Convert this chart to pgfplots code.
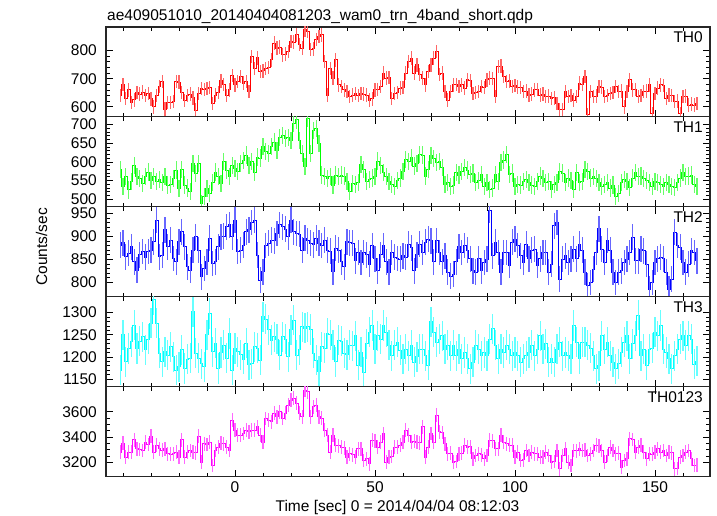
\documentclass[border=0pt]{standalone}
\usepackage{fontspec}
\setmainfont{Liberation Sans}
\usepackage{pgfplots}
\usepackage{pgfplotstable}
\pgfplotsset{compat=1.18}

\pgfplotstableread{
t a b c d e
-41 640 580 881 1170 3280
-40 680 534 886 1250 3352
-39 630 560 856 1189 3240
-38 660 525 863 1219 3280
-37 615 547 877 1234 3280
-36 625 591 845 1272 3379
-35 650 560 827 1219 3307
-34 645 556 860 1235 3300
-33 652 542 867 1246 3293
-32 640 560 855 1216 3360
-31 648 573 867 1240 3340
-30 628 551 870 1276 3405
-29 600 560 888 1329 3280
-28 640 547 935 1276 3333
-27 672 552 856 1208 3307
-26 690 545 859 1189 3295
-25 592 560 914 1212 3307
-24 615 538 877 1204 3267
-23 616 540 892 1223 3262
-22 618 555 852 1200 3267
-21 690 578 845 1170 3280
-20 688 529 888 1178 3240
-19 650 580 910 1216 3379
-18 622 538 877 1174 3240
-17 640 530 834 1195 3280
-16 645 520 827 1197 3293
-15 632 596 870 1302 3280
-14 588 569 899 1208 3275
-13 648 596 870 1197 3405
-12 665 488 812 1185 3200
-11 662 507 830 1178 3347
-10 665 529 845 1250 3340
-9 668 516 896 1298 3360
-8 612 545 841 1212 3173
-7 642 573 845 1231 3293
-6 650 560 877 1174 3320
-5 692 542 899 1210 3352
-4 680 600 900 1227 3345
-3 640 578 921 1197 3320
-2 660 560 925 1253 3293
-1 712 591 899 1170 3533
0 678 582 935 1219 3453
1 690 575 867 1212 3413
2 708 596 870 1205 3413
3 684 604 881 1195 3427
4 690 618 910 1231 3453
5 654 591 914 1182 3440
6 779 600 930 1185 3453
7 737 573 935 1223 3453
8 774 613 859 1220 3480
9 725 610 805 1193 3413
10 728 640 823 1291 3360
11 737 627 880 1285 3547
12 740 622 885 1261 3533
13 767 640 892 1238 3520
14 827 653 890 1246 3587
15 809 631 906 1240 3560
16 812 666 925 1204 3600
17 785 671 921 1246 3547
18 788 662 915 1240 3587
19 797 665 899 1200 3653
20 833 657 935 1261 3693
21 830 702 910 1283 3707
22 856 712 906 1204 3667
23 821 657 905 1216 3587
24 809 622 870 1268 3560
25 874 587 896 1265 3773
26 868 715 890 1268 3760
27 803 622 885 1262 3560
28 806 684 882 1208 3640
29 839 690 896 1193 3653
30 850 649 885 1167 3560
31 856 565 880 1223 3550
32 761 560 892 1220 3453
33 642 556 870 1253 3413
34 737 560 868 1250 3280
35 702 538 823 1227 3413
36 767 565 874 1189 3333
37 678 560 870 1238 3330
38 672 565 845 1235 3320
39 660 562 834 1208 3315
40 655 547 888 1205 3240
41 636 520 886 1227 3267
42 642 542 885 1225 3260
43 648 540 847 1248 3240
44 640 545 865 1181 3307
45 648 593 843 1211 3307
46 645 580 865 1166 3213
47 642 548 860 1230 3227
48 624 552 840 1256 3187
49 628 557 880 1271 3373
50 660 560 851 1218 3370
51 662 602 825 1248 3320
52 672 590 860 1240 3360
53 720 571 880 1271 3427
54 702 560 845 1256 3200
55 705 548 822 1226 3240
56 630 540 865 1203 3245
57 648 535 855 1226 3320
58 650 550 852 1233 3318
59 666 557 850 1215 3333
60 668 575 858 1196 3360
61 720 607 855 1218 3453
62 761 600 883 1203 3413
63 773 611 875 1226 3360
64 720 589 825 1188 3365
65 749 595 860 1200 3360
66 714 620 883 1218 3355
67 702 618 865 1218 3480
68 678 562 887 1203 3240
69 725 580 894 1181 3320
70 749 616 890 1279 3427
71 773 608 845 1256 3360
72 797 598 891 1233 3573
73 714 600 865 1240 3440
74 720 585 845 1248 3435
75 654 540 858 1218 3347
76 624 545 822 1226 3267
77 654 535 814 1203 3270
78 678 538 818 1226 3200
79 680 571 845 1203 3205
80 672 565 878 1218 3267
81 678 575 865 1196 3270
82 666 584 880 1210 3333
83 696 578 870 1196 3320
84 694 566 851 1173 3322
85 648 570 825 1188 3227
86 650 544 822 1226 3253
87 654 550 851 1218 3267
88 672 566 825 1203 3260
89 668 535 843 1210 3227
90 696 545 850 1203 3253
91 702 526 956 1240 3373
92 700 530 858 1264 3370
93 636 566 887 1226 3307
94 743 548 865 1196 3305
95 745 598 822 1218 3413
96 708 605 865 1210 3360
97 690 620 865 1226 3347
98 692 566 837 1218 3333
99 672 570 887 1203 3335
100 675 535 894 1210 3240
101 670 540 880 1203 3280
102 668 538 858 1188 3213
103 654 548 843 1196 3220
104 656 552 883 1203 3293
105 642 544 851 1210 3253
106 645 538 870 1226 3280
107 660 535 872 1203 3267
108 662 548 837 1218 3267
109 642 562 851 1248 3240
110 645 555 865 1218 3243
111 636 544 865 1230 3280
112 638 548 822 1188 3253
113 630 526 840 1196 3200
114 632 540 923 1188 3205
115 612 544 930 1218 3293
116 589 575 807 1233 3147
117 590 570 850 1203 3253
118 654 544 858 1210 3307
119 636 557 843 1203 3200
120 640 550 851 1196 3173
121 624 526 872 1271 3293
122 636 571 851 1233 3290
123 684 544 883 1196 3307
124 680 548 870 1233 3293
125 708 580 822 1233 3295
126 571 575 793 1226 3253
127 654 557 800 1220 3267
128 636 560 829 1203 3293
129 638 555 865 1173 3333
130 672 544 916 1180 3330
131 670 535 872 1248 3293
132 636 540 843 1218 3200
133 640 544 891 1233 3253
134 648 530 870 1203 3320
135 650 538 822 1188 3293
136 672 508 800 1173 3267
137 654 515 822 1185 3270
138 656 544 825 1211 3160
139 600 552 843 1233 3213
140 654 548 850 1248 3227
141 696 531 865 1196 3387
142 660 557 898 1230 3380
143 662 571 847 1248 3280
144 636 560 847 1294 3320
145 640 562 872 1203 3333
146 654 555 869 1218 3280
147 656 550 840 1181 3227
148 678 544 785 1218 3267
149 577 535 800 1220 3265
150 648 548 843 1256 3280
151 666 544 851 1248 3307
152 678 540 855 1271 3280
153 676 535 851 1218 3293
154 630 544 822 1210 3253
155 642 540 785 1196 3280
156 640 535 807 1173 3275
157 618 531 909 1203 3147
158 620 544 880 1218 3150
159 577 557 876 1240 3240
160 636 571 843 1248 3253
161 638 560 822 1226 3280
162 606 562 840 1248 3293
163 610 565 869 1240 3227
164 606 540 865 1184 3173
165 612 535 847 1190 3175
}\datatable

\definecolor{qred}{rgb}{1,0,0}
\definecolor{qgreen}{rgb}{0,1,0}
\definecolor{qblue}{rgb}{0,0,1}
\definecolor{qcyan}{rgb}{0,1,1}
\definecolor{qmag}{rgb}{1,0,1}

\pgfplotsset{
  /pgf/number format/.cd, 1000 sep={}, assume math mode=true,
  /pgfplots/.cd,
  panel/.style={
    width=604pt, height=89.9pt, scale only axis,
    anchor=north west,
    xmin=-46.07, xmax=169.64,
    xtick={0,50,100,150},
    minor xtick={-40,-30,-20,-10,10,20,30,40,60,70,80,90,110,120,130,140,160},
    xticklabels={},
    major tick length=7pt, minor tick length=4pt,
    tick style={black, line width=0.7pt},
    axis line style={black!85, line width=1.1pt},
    tick label style={font=\fontsize{15.5}{18}\selectfont},
    yticklabel style={inner sep=0pt, anchor=east, xshift=-9pt},
    xticklabel style={inner sep=0pt, anchor=north, yshift=-5pt},
  },
  qdp/.style 2 args={#1, line width=0.9pt, const plot mark mid, mark=none,
    error bars/.cd, y dir=both, y fixed=#2, error mark=none,
    error bar style={line width=1.3pt, #1!60}},
}

\newcommand{\thlabel}[1]{\node[anchor=base east, inner sep=0pt, font=\fontsize{15.5}{18}\selectfont] at (axis description cs:0.9884,0.822) {#1};}

\begin{document}
\begin{tikzpicture}
\useasboundingbox (0,0) rectangle (717pt,-516pt);

\node[anchor=base west, inner sep=0pt, font=\fontsize{15.5}{18}\selectfont] at (107pt,-20.7pt) {ae409051010\_20140404081203\_wam0\_trn\_4band\_short.qdp};

\begin{axis}[panel, at={(106pt,-27pt)}, ymin=564, ymax=884, ytick={600,700,800}, minor y tick num=4]
\addplot[qdp={qred}{24}] table[x=t, y=a] {\datatable};
\thlabel{TH0}
\end{axis}

\begin{axis}[panel, at={(106pt,-116.9pt)}, ymin=480, ymax=720, ytick={500,550,600,650,700}, minor y tick num=4]
\addplot[qdp={qgreen}{23}] table[x=t, y=b] {\datatable};
\thlabel{TH1}
\end{axis}

\begin{axis}[panel, at={(106pt,-206.8pt)}, ymin=769, ymax=964, ytick={800,850,900,950}, minor y tick num=4]
\addplot[qdp={qblue}{28}] table[x=t, y=c] {\datatable};
\thlabel{TH2}
\end{axis}

\begin{axis}[panel, at={(106pt,-296.7pt)}, ymin=1133, ymax=1336, ytick={1150,1200,1250,1300}, minor y tick num=4]
\addplot[qdp={qcyan}{34}] table[x=t, y=d] {\datatable};
\thlabel{TH3}
\end{axis}

\begin{axis}[panel, at={(106pt,-386.6pt)}, ymin=3086, ymax=3800, ytick={3200,3400,3600}, minor y tick num=3, xticklabels={0,50,100,150}]
\addplot[qdp={qmag}{55}] table[x=t, y=e] {\datatable};
\thlabel{TH0123}
\end{axis}

\node[anchor=base, inner sep=0pt, font=\fontsize{15.5}{18}\selectfont] at (397.5pt,-511pt) {Time [sec] 0 = 2014/04/04 08:12:03};
\node[anchor=base, inner sep=0pt, rotate=90, font=\fontsize{15.5}{18}\selectfont] at (47pt,-247pt) {Counts/sec};
\end{tikzpicture}
\end{document}
